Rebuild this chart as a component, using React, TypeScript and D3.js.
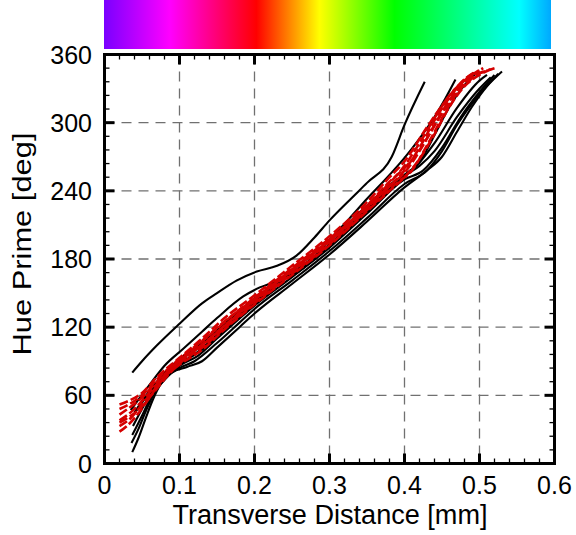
import React from "react";
import * as d3 from "d3";

type Pt = [number, number];

// ---- tick labels ----
const xTickValues = [0, 0.1, 0.2, 0.3, 0.4, 0.5, 0.6];
const xTickLabels = ["0", "0.1", "0.2", "0.3", "0.4", "0.5", "0.6"];
const yTickValues = [0, 60, 120, 180, 240, 300, 360];
const yTickLabels = ["0", "60", "120", "180", "240", "300", "360"];

// ---- colour bar stops (offset, colour) ----
const barOffsets = [0, 0.147, 0.341, 0.482, 0.65, 0.929, 1];
const barColors = ["#7a00ff", "#ff00ff", "#ff0000", "#ffff00", "#00ff00", "#00ffff", "#00a8ff"];

// ---- black series (Transverse Distance [mm], Hue Prime [deg]) ----
const blackA: Pt[] = [[0.037,80],[0.05,90],[0.07,104],[0.1,123],[0.13,141],[0.15,150],[0.176,161],[0.203,169],[0.23,174],[0.256,183],[0.28,199],[0.3,214],[0.33,234],[0.35,247],[0.383,270],[0.4,298],[0.427,336]];
const blackB: Pt[] = [[0.035,47],[0.045,56],[0.061,70],[0.08,86],[0.105,101],[0.13,116],[0.15,128],[0.185,147],[0.207,155],[0.238,162],[0.265,172],[0.3,197],[0.327,216],[0.35,233],[0.38,254],[0.4,269],[0.42,286],[0.438,303],[0.455,322],[0.468,338]];
const blackC: Pt[] = [[0.04,45],[0.05,55],[0.065,68],[0.08,80],[0.1,92],[0.13,106],[0.16,123],[0.2,145],[0.25,168],[0.3,191],[0.33,209],[0.36,228],[0.38,240],[0.4,254],[0.42,265],[0.44,289],[0.46,314],[0.48,333],[0.495,343]];
const blackK1: Pt[] = [[0.037,10],[0.045,22],[0.055,40],[0.065,57],[0.075,70],[0.09,80],[0.11,85],[0.13,90],[0.15,102],[0.18,120],[0.2,132],[0.25,158],[0.3,184],[0.35,213],[0.4,243],[0.43,258],[0.45,270],[0.47,292],[0.49,314],[0.51,332],[0.53,345]];
const blackK2: Pt[] = [[0.036,18],[0.045,30],[0.055,46],[0.065,60],[0.08,75],[0.1,84],[0.12,90],[0.15,106],[0.18,124],[0.2,136],[0.25,161],[0.3,187],[0.35,216],[0.4,246],[0.43,258],[0.45,275],[0.47,298],[0.5,325],[0.525,343]];
const blackK3: Pt[] = [[0.037,25],[0.05,42],[0.06,56],[0.075,70],[0.1,86],[0.125,95],[0.15,110],[0.2,139],[0.25,164],[0.3,190],[0.35,220],[0.4,250],[0.425,258],[0.45,278],[0.475,305],[0.5,327],[0.52,342]];
const blackK4: Pt[] = [[0.038,33],[0.05,48],[0.065,65],[0.08,78],[0.1,88],[0.13,100],[0.16,117],[0.2,141],[0.25,167],[0.3,193],[0.35,224],[0.4,253],[0.42,262],[0.44,275],[0.47,305],[0.5,330],[0.515,340]];
const blackK5: Pt[] = [[0.04,44],[0.055,58],[0.07,70],[0.09,82],[0.12,96],[0.15,113],[0.2,143],[0.25,170],[0.3,196],[0.35,227],[0.39,250],[0.41,258],[0.44,282],[0.47,313],[0.5,337],[0.51,342]];

// ---- red dashed series ----
const red1: Pt[] = [[0.02,28],[0.03,33],[0.045,44],[0.06,58],[0.08,76],[0.1,87],[0.13,100],[0.16,118],[0.2,140],[0.25,166],[0.3,192],[0.35,222],[0.38,240],[0.4,252],[0.42,268],[0.44,290],[0.46,314],[0.48,332],[0.5,342],[0.515,347]];
const red2: Pt[] = [[0.02,33],[0.035,40],[0.05,52],[0.065,64],[0.085,80],[0.1,90],[0.13,104],[0.16,121],[0.2,143],[0.25,169],[0.3,195],[0.35,225],[0.38,244],[0.4,256],[0.42,275],[0.44,298],[0.46,320],[0.48,336],[0.5,345]];
const red3: Pt[] = [[0.02,38],[0.035,45],[0.05,55],[0.07,70],[0.09,84],[0.11,94],[0.14,110],[0.17,127],[0.2,144],[0.25,170],[0.3,196],[0.35,226],[0.37,238],[0.4,258],[0.42,278],[0.44,302],[0.46,322],[0.48,338],[0.5,346]];
const red4: Pt[] = [[0.02,43],[0.035,50],[0.05,58],[0.07,72],[0.09,85],[0.11,96],[0.14,113],[0.17,130],[0.2,146],[0.25,172],[0.3,198],[0.34,220],[0.37,240],[0.4,262],[0.42,282],[0.44,304],[0.46,324],[0.49,342],[0.505,348]];
const red5: Pt[] = [[0.02,48],[0.035,53],[0.05,60],[0.07,74],[0.1,92],[0.13,108],[0.16,125],[0.2,145],[0.25,171],[0.3,197],[0.35,227],[0.38,248],[0.4,260],[0.42,276],[0.45,308],[0.47,328],[0.49,340],[0.51,346]];
const red6: Pt[] = [[0.02,52],[0.035,56],[0.05,62],[0.07,76],[0.1,93],[0.13,110],[0.16,128],[0.2,148],[0.25,174],[0.3,200],[0.35,230],[0.38,252],[0.4,266],[0.43,296],[0.45,315],[0.48,338],[0.495,345]];
const red7: Pt[] = [[0.02,36],[0.035,42],[0.05,50],[0.065,62],[0.085,78],[0.1,88],[0.13,102],[0.16,119],[0.2,141],[0.25,167],[0.3,193],[0.35,223],[0.39,247],[0.41,258],[0.43,280],[0.45,304],[0.47,326],[0.49,339],[0.52,348]];

const blackSeries = [blackA, blackB, blackC, blackK1, blackK2, blackK3, blackK4, blackK5];
const redSeries = [red1, red2, red3, red4, red5, red6, red7];

const W = 576;
const H = 535;
const FONT = "'Liberation Sans', Arial, Helvetica, sans-serif";

export default function App() {
  const x = d3.scaleLinear().domain([0, 0.6]).range([104.5, 554.5]);
  const y = d3.scaleLinear().domain([0, 360]).range([463.5, 54.5]);
  const line = d3
    .line<Pt>()
    .x((d) => x(d[0]))
    .y((d) => y(d[1]))
    .curve(d3.curveMonotoneX);

  const [x0, x1] = x.range();
  const [y0, y1] = y.range();
  const xMinor = d3.range(0, 0.6001, 0.02);
  const yMinor = d3.range(0, 360.1, 12);
  const gridX = xTickValues.slice(1, -1);
  const gridY = yTickValues.slice(1, -1);

  return (
    <svg
      width={W}
      height={H}
      style={{ position: "fixed", left: 0, top: 0, background: "#fff" }}
      fontFamily={FONT}
    >
      <defs>
        <linearGradient id="hueBar" x1="0" x2="1" y1="0" y2="0">
          {barOffsets.map((o, i) => (
            <stop key={i} offset={o} stopColor={barColors[i]} />
          ))}
        </linearGradient>
      </defs>
      <rect x={0} y={0} width={W} height={H} fill="#fff" />
      {/* colour bar */}
      <rect x={104} y={0} width={447} height={49} fill="url(#hueBar)" />

      {/* grid */}
      <g stroke="#707070" strokeWidth={1.3} strokeDasharray="10,7">
        {gridX.map((v) => (
          <line key={"gx" + v} x1={x(v)} x2={x(v)} y1={y1} y2={y0} />
        ))}
        {gridY.map((v) => (
          <line key={"gy" + v} x1={x0} x2={x1} y1={y(v)} y2={y(v)} />
        ))}
      </g>

      {/* data */}
      <g fill="none">
        {blackSeries.map((s, i) => (
          <path key={"b" + i} d={line(s) || ""} stroke="#000" strokeWidth={2.1} />
        ))}
        {redSeries.map((s, i) => (
          <path
            key={"r" + i}
            d={line(s) || ""}
            stroke="#d40000"
            strokeWidth={2.6}
            strokeDasharray="9,3"
          />
        ))}
      </g>

      {/* ticks */}
      <g stroke="#000">
        {xMinor.map((v, i) => (
          <g key={"xm" + i} strokeWidth={1.3}>
            <line x1={x(v)} x2={x(v)} y1={y0} y2={y0 - 5} />
            <line x1={x(v)} x2={x(v)} y1={y1} y2={y1 + 5} />
          </g>
        ))}
        {yMinor.map((v, i) => (
          <g key={"ym" + i} strokeWidth={1.3}>
            <line x1={x0} x2={x0 + 5} y1={y(v)} y2={y(v)} />
            <line x1={x1} x2={x1 - 5} y1={y(v)} y2={y(v)} />
          </g>
        ))}
        {xTickValues.map((v) => (
          <g key={"xM" + v} strokeWidth={3}>
            <line x1={x(v)} x2={x(v)} y1={y0} y2={y0 - 10} />
            <line x1={x(v)} x2={x(v)} y1={y1} y2={y1 + 10} />
          </g>
        ))}
        {yTickValues.map((v) => (
          <g key={"yM" + v} strokeWidth={3}>
            <line x1={x0} x2={x0 + 10} y1={y(v)} y2={y(v)} />
            <line x1={x1} x2={x1 - 10} y1={y(v)} y2={y(v)} />
          </g>
        ))}
      </g>

      {/* frame */}
      <rect x={x0} y={y1} width={x1 - x0} height={y0 - y1} fill="none" stroke="#000" strokeWidth={3} />

      {/* tick labels */}
      <g fontSize={25} fill="#000">
        {xTickValues.map((v, i) => (
          <text key={"xl" + v} x={x(v)} y={494} textAnchor="middle">
            {xTickLabels[i]}
          </text>
        ))}
        {yTickValues.map((v, i) => (
          <text key={"yl" + v} x={92} y={y(v) + 9} textAnchor="end">
            {yTickLabels[i]}
          </text>
        ))}
      </g>

      {/* axis titles */}
      <text x={330} y={524} fontSize={27} textAnchor="middle" textLength={315} lengthAdjust="spacingAndGlyphs">
        Transverse Distance [mm]
      </text>
      <text
        transform="translate(31,244) rotate(-90)"
        fontSize={25}
        textAnchor="middle"
        textLength={223}
        lengthAdjust="spacingAndGlyphs"
      >
        Hue Prime [deg]
      </text>
    </svg>
  );
}
